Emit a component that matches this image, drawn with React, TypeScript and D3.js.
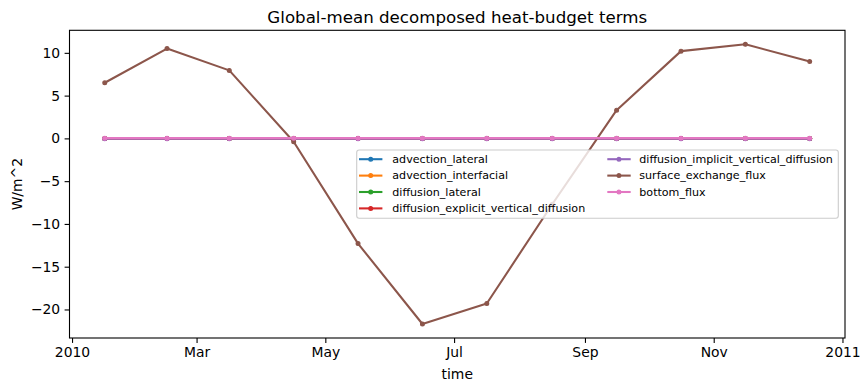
import React, { useRef, useEffect } from 'react';
import * as d3 from 'd3';

// Monthly mean time stamps (mid-month)
const times = [
  '2010-01-16T12:00:00Z', '2010-02-15T00:00:00Z', '2010-03-16T12:00:00Z',
  '2010-04-16T00:00:00Z', '2010-05-16T12:00:00Z', '2010-06-16T00:00:00Z',
  '2010-07-16T12:00:00Z', '2010-08-16T12:00:00Z', '2010-09-16T00:00:00Z',
  '2010-10-16T12:00:00Z', '2010-11-16T00:00:00Z', '2010-12-16T12:00:00Z',
];

const termNames = [
  'advection_lateral',
  'advection_interfacial',
  'diffusion_lateral',
  'diffusion_explicit_vertical_diffusion',
  'diffusion_implicit_vertical_diffusion',
  'surface_exchange_flux',
  'bottom_flux',
];

const termColors = ['#1f77b4', '#ff7f0e', '#2ca02c', '#d62728', '#9467bd', '#8c564b', '#e377c2'];

// W/m^2
const advectionLateral = [0, 0, 0, 0, 0, 0, 0, 0, 0, 0, 0, 0];
const advectionInterfacial = [0, 0, 0, 0, 0, 0, 0, 0, 0, 0, 0, 0];
const diffusionLateral = [0, 0, 0, 0, 0, 0, 0, 0, 0, 0, 0, 0];
const diffusionExplicitVertical = [0, 0, 0, 0, 0, 0, 0, 0, 0, 0, 0, 0];
const diffusionImplicitVertical = [-0.05, -0.05, -0.05, -0.05, -0.05, -0.05, -0.05, -0.05, -0.05, -0.05, -0.05, -0.05];
const surfaceExchangeFlux = [6.5, 10.5, 7.95, -0.4, -12.3, -21.7, -19.3, -7.7, 3.3, 10.2, 11.0, 9.0];
const bottomFlux = [0.03, 0.03, 0.03, 0.03, 0.03, 0.03, 0.03, 0.03, 0.03, 0.03, 0.03, 0.03];

const yTicks = [-20, -15, -10, -5, 0, 5, 10];

const seriesValues = [
  advectionLateral,
  advectionInterfacial,
  diffusionLateral,
  diffusionExplicitVertical,
  diffusionImplicitVertical,
  surfaceExchangeFlux,
  bottomFlux,
];

const W = 868;
const H = 391;
const FONT = '"DejaVu Sans", Verdana, sans-serif';

const Chart = () => {
  const svgRef = useRef<SVGSVGElement>(null);

  useEffect(() => {
    const svg = d3.select(svgRef.current);
    svg.selectAll('*').remove();

    const plot = { left: 69.5, right: 845, top: 30.3, bottom: 338 };
    const dates = times.map((t) => new Date(t));

    // matplotlib-style 5% margins around the data
    const [t0, t1] = d3.extent(dates) as [Date, Date];
    const tPad = (t1.getTime() - t0.getTime()) * 0.05;
    const xScale = d3
      .scaleUtc()
      .domain([new Date(t0.getTime() - tPad), new Date(t1.getTime() + tPad)])
      .range([plot.left, plot.right]);

    const allVals = seriesValues.flat();
    const vMin = d3.min(allVals) as number;
    const vMax = d3.max(allVals) as number;
    const vPad = (vMax - vMin) * 0.05;
    const yScale = d3
      .scaleLinear()
      .domain([vMin - vPad, vMax + vPad])
      .range([plot.bottom, plot.top]);

    const fmtTick = (d: Date) =>
      d.getUTCMonth() === 0 ? d3.utcFormat('%Y')(d) : d3.utcFormat('%b')(d);

    // x axis
    const xAxis = svg
      .append('g')
      .attr('transform', `translate(0, ${plot.bottom})`)
      .call(
        d3
          .axisBottom(xScale)
          .ticks(d3.utcMonth.every(2))
          .tickFormat((d) => fmtTick(d as Date))
          .tickSize(4.9)
          .tickPadding(4.4)
          .tickSizeOuter(0)
      );
    xAxis.select('.domain').remove();
    xAxis.selectAll('line').attr('stroke', '#000').attr('stroke-width', 1.1);
    xAxis.selectAll('text').attr('font-family', FONT).attr('font-size', 13.9).attr('fill', '#000');

    // y axis
    const yAxis = svg
      .append('g')
      .attr('transform', `translate(${plot.left}, 0)`)
      .call(
        d3
          .axisLeft(yScale)
          .tickValues(yTicks)
          .tickFormat((d) => d3.format('d')(d as number).replace('-', '\u2212'))
          .tickSize(4.9)
          .tickPadding(4.4)
          .tickSizeOuter(0)
      );
    yAxis.select('.domain').remove();
    yAxis.selectAll('line').attr('stroke', '#000').attr('stroke-width', 1.1);
    yAxis.selectAll('text').attr('font-family', FONT).attr('font-size', 13.9).attr('fill', '#000');

    // series lines with point markers
    const line = d3
      .line<number>()
      .x((_, i) => xScale(dates[i]))
      .y((v) => yScale(v));

    seriesValues.forEach((vals, k) => {
      const g = svg.append('g');
      g.append('path')
        .attr('d', line(vals))
        .attr('fill', 'none')
        .attr('stroke', termColors[k])
        .attr('stroke-width', 2.08)
        .attr('stroke-linejoin', 'round');
      g.selectAll('circle')
        .data(vals)
        .enter()
        .append('circle')
        .attr('cx', (_, i) => xScale(dates[i]))
        .attr('cy', (v) => yScale(v))
        .attr('r', 1.9)
        .attr('fill', termColors[k])
        .attr('stroke', termColors[k])
        .attr('stroke-width', 1.2);
    });

    // frame
    svg
      .append('rect')
      .attr('x', plot.left)
      .attr('y', plot.top)
      .attr('width', plot.right - plot.left)
      .attr('height', plot.bottom - plot.top)
      .attr('fill', 'none')
      .attr('stroke', '#000')
      .attr('stroke-width', 1.1);

    // legend, two columns
    const legend = svg.append('g');
    legend
      .append('rect')
      .attr('x', 356.7)
      .attr('y', 150)
      .attr('width', 838.3 - 356.7)
      .attr('height', 218.3 - 150)
      .attr('rx', 2.5)
      .attr('fill', 'rgba(255,255,255,0.8)')
      .attr('stroke', '#cccccc')
      .attr('stroke-width', 1.1);

    const perCol = 4;
    const colX = [359, 607.3];
    const textX = [392.3, 639.3];
    const rowY0 = 159.2;
    const rowDy = 16.4;
    termNames.forEach((name, k) => {
      const c = Math.floor(k / perCol);
      const r = k % perCol;
      const y = rowY0 + r * rowDy;
      const item = legend.append('g');
      item
        .append('line')
        .attr('x1', colX[c])
        .attr('x2', colX[c] + 23.4)
        .attr('y1', y)
        .attr('y2', y)
        .attr('stroke', termColors[k])
        .attr('stroke-width', 2.08);
      item
        .append('circle')
        .attr('cx', colX[c] + 11.7)
        .attr('cy', y)
        .attr('r', 1.9)
        .attr('fill', termColors[k])
        .attr('stroke', termColors[k])
        .attr('stroke-width', 1.2);
      item
        .append('text')
        .attr('x', textX[c])
        .attr('y', y)
        .attr('dy', '0.35em')
        .attr('font-family', FONT)
        .attr('font-size', 11.1)
        .attr('fill', '#000')
        .text(name);
    });

    // title and axis labels
    svg
      .append('text')
      .attr('x', (plot.left + plot.right) / 2)
      .attr('y', 22.5)
      .attr('text-anchor', 'middle')
      .attr('font-family', FONT)
      .attr('font-size', 16.67)
      .text('Global-mean decomposed heat-budget terms');

    svg
      .append('text')
      .attr('x', (plot.left + plot.right) / 2)
      .attr('y', 378.5)
      .attr('text-anchor', 'middle')
      .attr('font-family', FONT)
      .attr('font-size', 13.9)
      .text('time');

    svg
      .append('text')
      .attr('transform', `translate(22, ${(plot.top + plot.bottom) / 2}) rotate(-90)`)
      .attr('text-anchor', 'middle')
      .attr('font-family', FONT)
      .attr('font-size', 13.9)
      .text('W/m^2');
  }, []);

  return (
    <svg
      ref={svgRef}
      width={W}
      height={H}
      style={{ position: 'absolute', left: 0, top: 0, background: '#fff' }}
    ></svg>
  );
};

export default function App() {
  return <Chart />;
}
